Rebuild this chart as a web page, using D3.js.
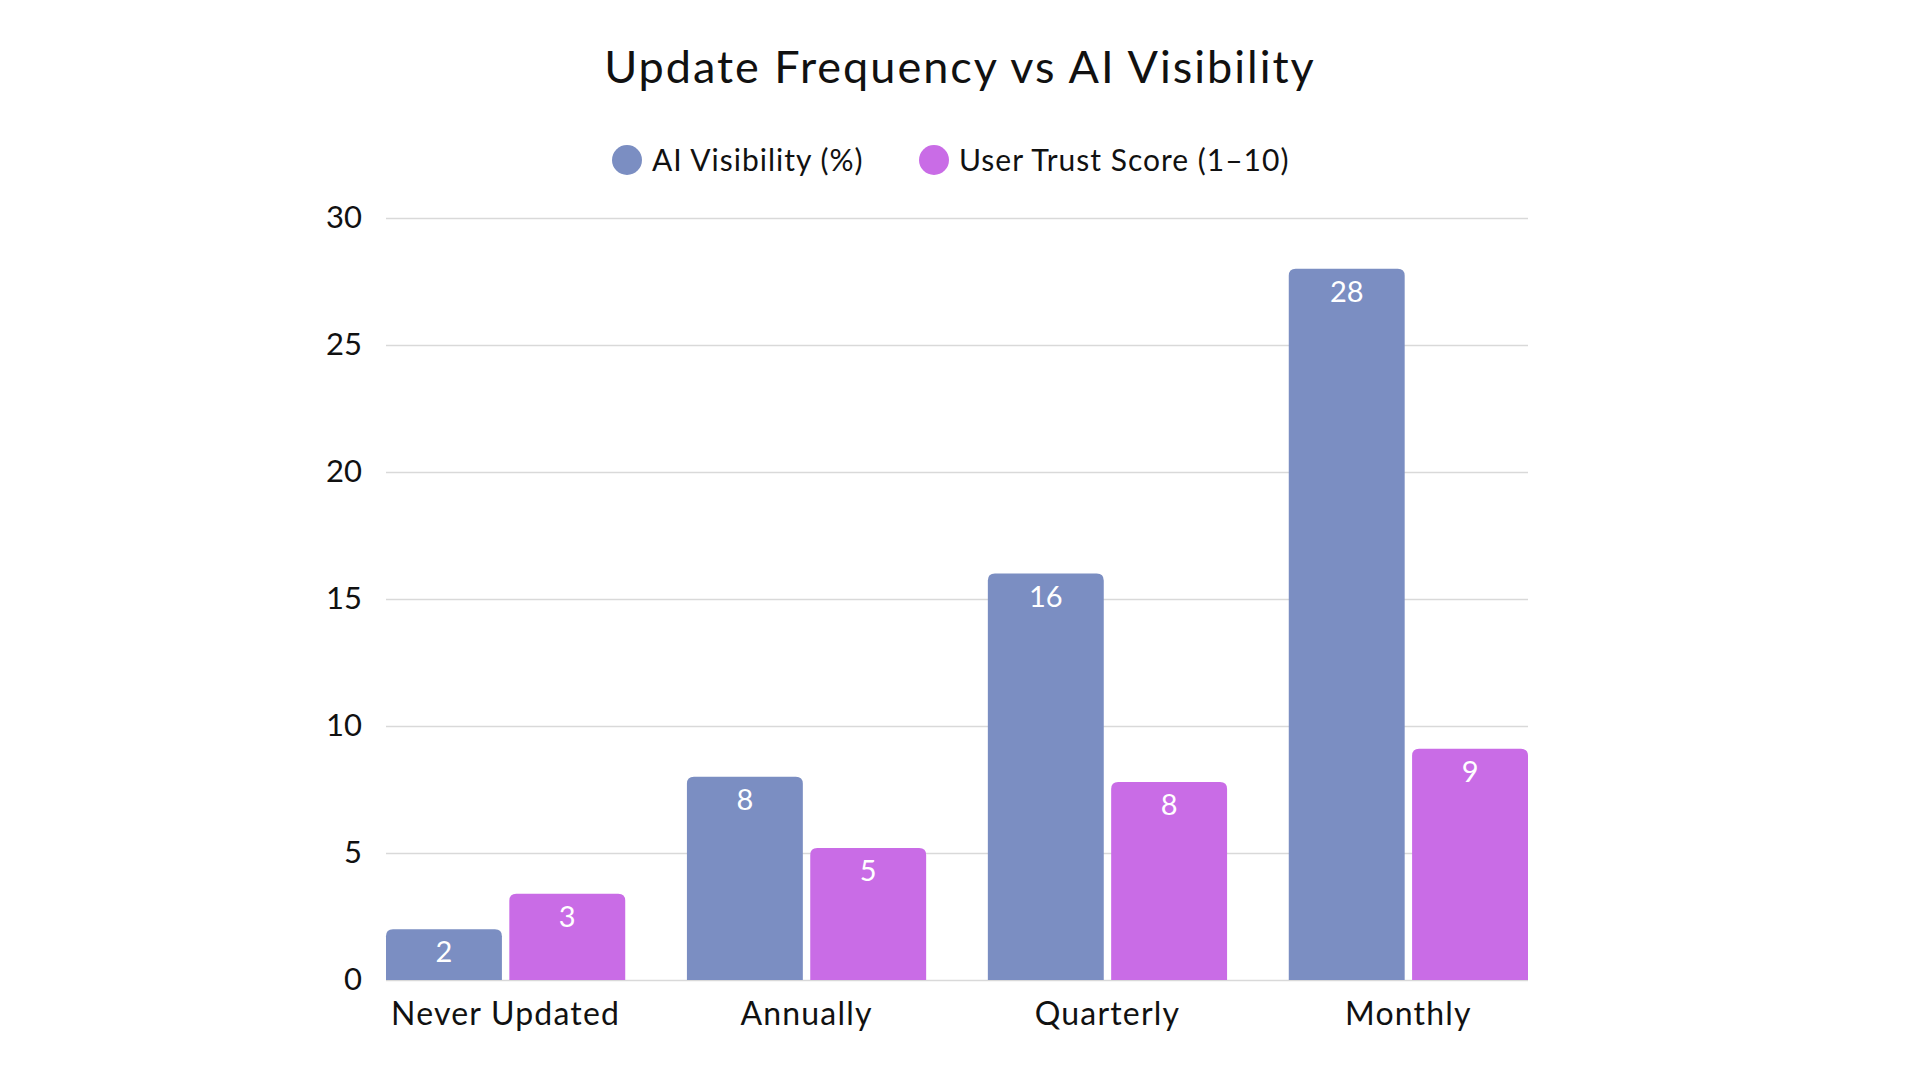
<!DOCTYPE html>
<html>
<head>
<meta charset="utf-8">
<script src="https://cdn.jsdelivr.net/npm/d3@7"></script>
<style>
  body { margin: 0; background: #fff; }
  text { font-family: Lato, "Open Sans", sans-serif; }
</style>
</head>
<body>
<div id="chart"></div>
<script>
// data (trust bars sit slightly above their rounded labels)
const categories = ["Never Updated", "Annually", "Quarterly", "Monthly"];
const seriesNames = ["AI Visibility (%)", "User Trust Score (1–10)"];
const aiVisibility = [2, 8, 16, 28];
const trustScore = [3.4, 5.2, 7.8, 9.1];
const yTicks = [0, 5, 10, 15, 20, 25, 30];
const colors = ["#7b8ec2", "#c96ce6"];

const w = 1920, h = 1080;
const margin = {top: 218, right: 392, bottom: 100, left: 386};

const svg = d3.select("#chart").append("svg")
    .attr("width", w)
    .attr("height", h);

const rows = categories.map((c, i) => ({cat: c, values: [aiVisibility[i], trustScore[i]]}));

const x0 = d3.scaleBand()
    .domain(categories)
    .range([margin.left, w - margin.right])
    .paddingInner(0.205)
    .paddingOuter(0);

const x1 = d3.scaleBand()
    .domain([0, 1])
    .range([0, x0.bandwidth()])
    .paddingInner(0.06)
    .paddingOuter(0);

const y = d3.scaleLinear()
    .domain([0, 30])
    .range([h - margin.bottom, margin.top]);

// title
svg.append("text")
    .attr("x", 960)
    .attr("y", 83)
    .attr("text-anchor", "middle")
    .style("font-size", "45px")
    .style("letter-spacing", "2px")
    .style("fill", "#111")
    .text("Update Frequency vs AI Visibility");

// legend
const legendX = [627, 934];
const legend = svg.selectAll(".legend")
    .data(seriesNames)
    .enter()
    .append("g")
    .attr("class", "legend")
    .attr("transform", (d, i) => `translate(${legendX[i]}, 160)`);
legend.append("circle")
    .attr("r", 15)
    .attr("fill", (d, i) => colors[i]);
legend.append("text")
    .attr("x", 25)
    .attr("y", 11)
    .style("font-size", "30px")
    .style("letter-spacing", "1px")
    .style("fill", "#111")
    .text(d => d);

// gridlines and y labels
const yAxis = d3.axisLeft(y)
    .tickValues(yTicks)
    .tickSize(-(w - margin.left - margin.right))
    .tickPadding(24)
    .tickFormat(d3.format("d"));
const gy = svg.append("g")
    .attr("transform", `translate(${margin.left},0)`)
    .call(yAxis);
gy.select(".domain").remove();
gy.selectAll(".tick line")
    .attr("stroke", "#d9d9d9")
    .attr("stroke-width", 1.5);
gy.selectAll(".tick text")
    .style("font-family", "Lato, sans-serif")
    .style("font-size", "31px")
    .style("fill", "#111");

// bars with rounded tops
const r = 7;
function barPath(x, yTop, bw, yBase) {
    const hh = yBase - yTop;
    const rr = Math.min(r, hh, bw / 2);
    return `M${x},${yBase}V${yTop + rr}Q${x},${yTop} ${x + rr},${yTop}` +
        `H${x + bw - rr}Q${x + bw},${yTop} ${x + bw},${yTop + rr}V${yBase}Z`;
}

const groups = svg.selectAll(".group")
    .data(rows)
    .enter()
    .append("g")
    .attr("class", "group")
    .attr("transform", d => `translate(${x0(d.cat)},0)`);

groups.selectAll("path")
    .data(d => d.values.map((v, i) => ({i, v})))
    .enter()
    .append("path")
    .attr("d", d => barPath(x1(d.i), y(d.v), x1.bandwidth(), y(0)))
    .attr("fill", d => colors[d.i]);

groups.selectAll(".val")
    .data(d => d.values.map((v, i) => ({i, v})))
    .enter()
    .append("text")
    .attr("class", "val")
    .attr("x", d => x1(d.i) + x1.bandwidth() / 2)
    .attr("y", d => y(d.v) + 33)
    .attr("text-anchor", "middle")
    .style("font-size", "29px")
    .style("fill", "#fff")
    .text(d => Math.round(d.v));

// category labels
svg.selectAll(".cat")
    .data(categories)
    .enter()
    .append("text")
    .attr("class", "cat")
    .attr("x", d => x0(d) + x0.bandwidth() / 2)
    .attr("y", 1025)
    .attr("text-anchor", "middle")
    .style("font-size", "32px")
    .style("letter-spacing", "1.2px")
    .style("fill", "#111")
    .text(d => d);
</script>
</body>
</html>
